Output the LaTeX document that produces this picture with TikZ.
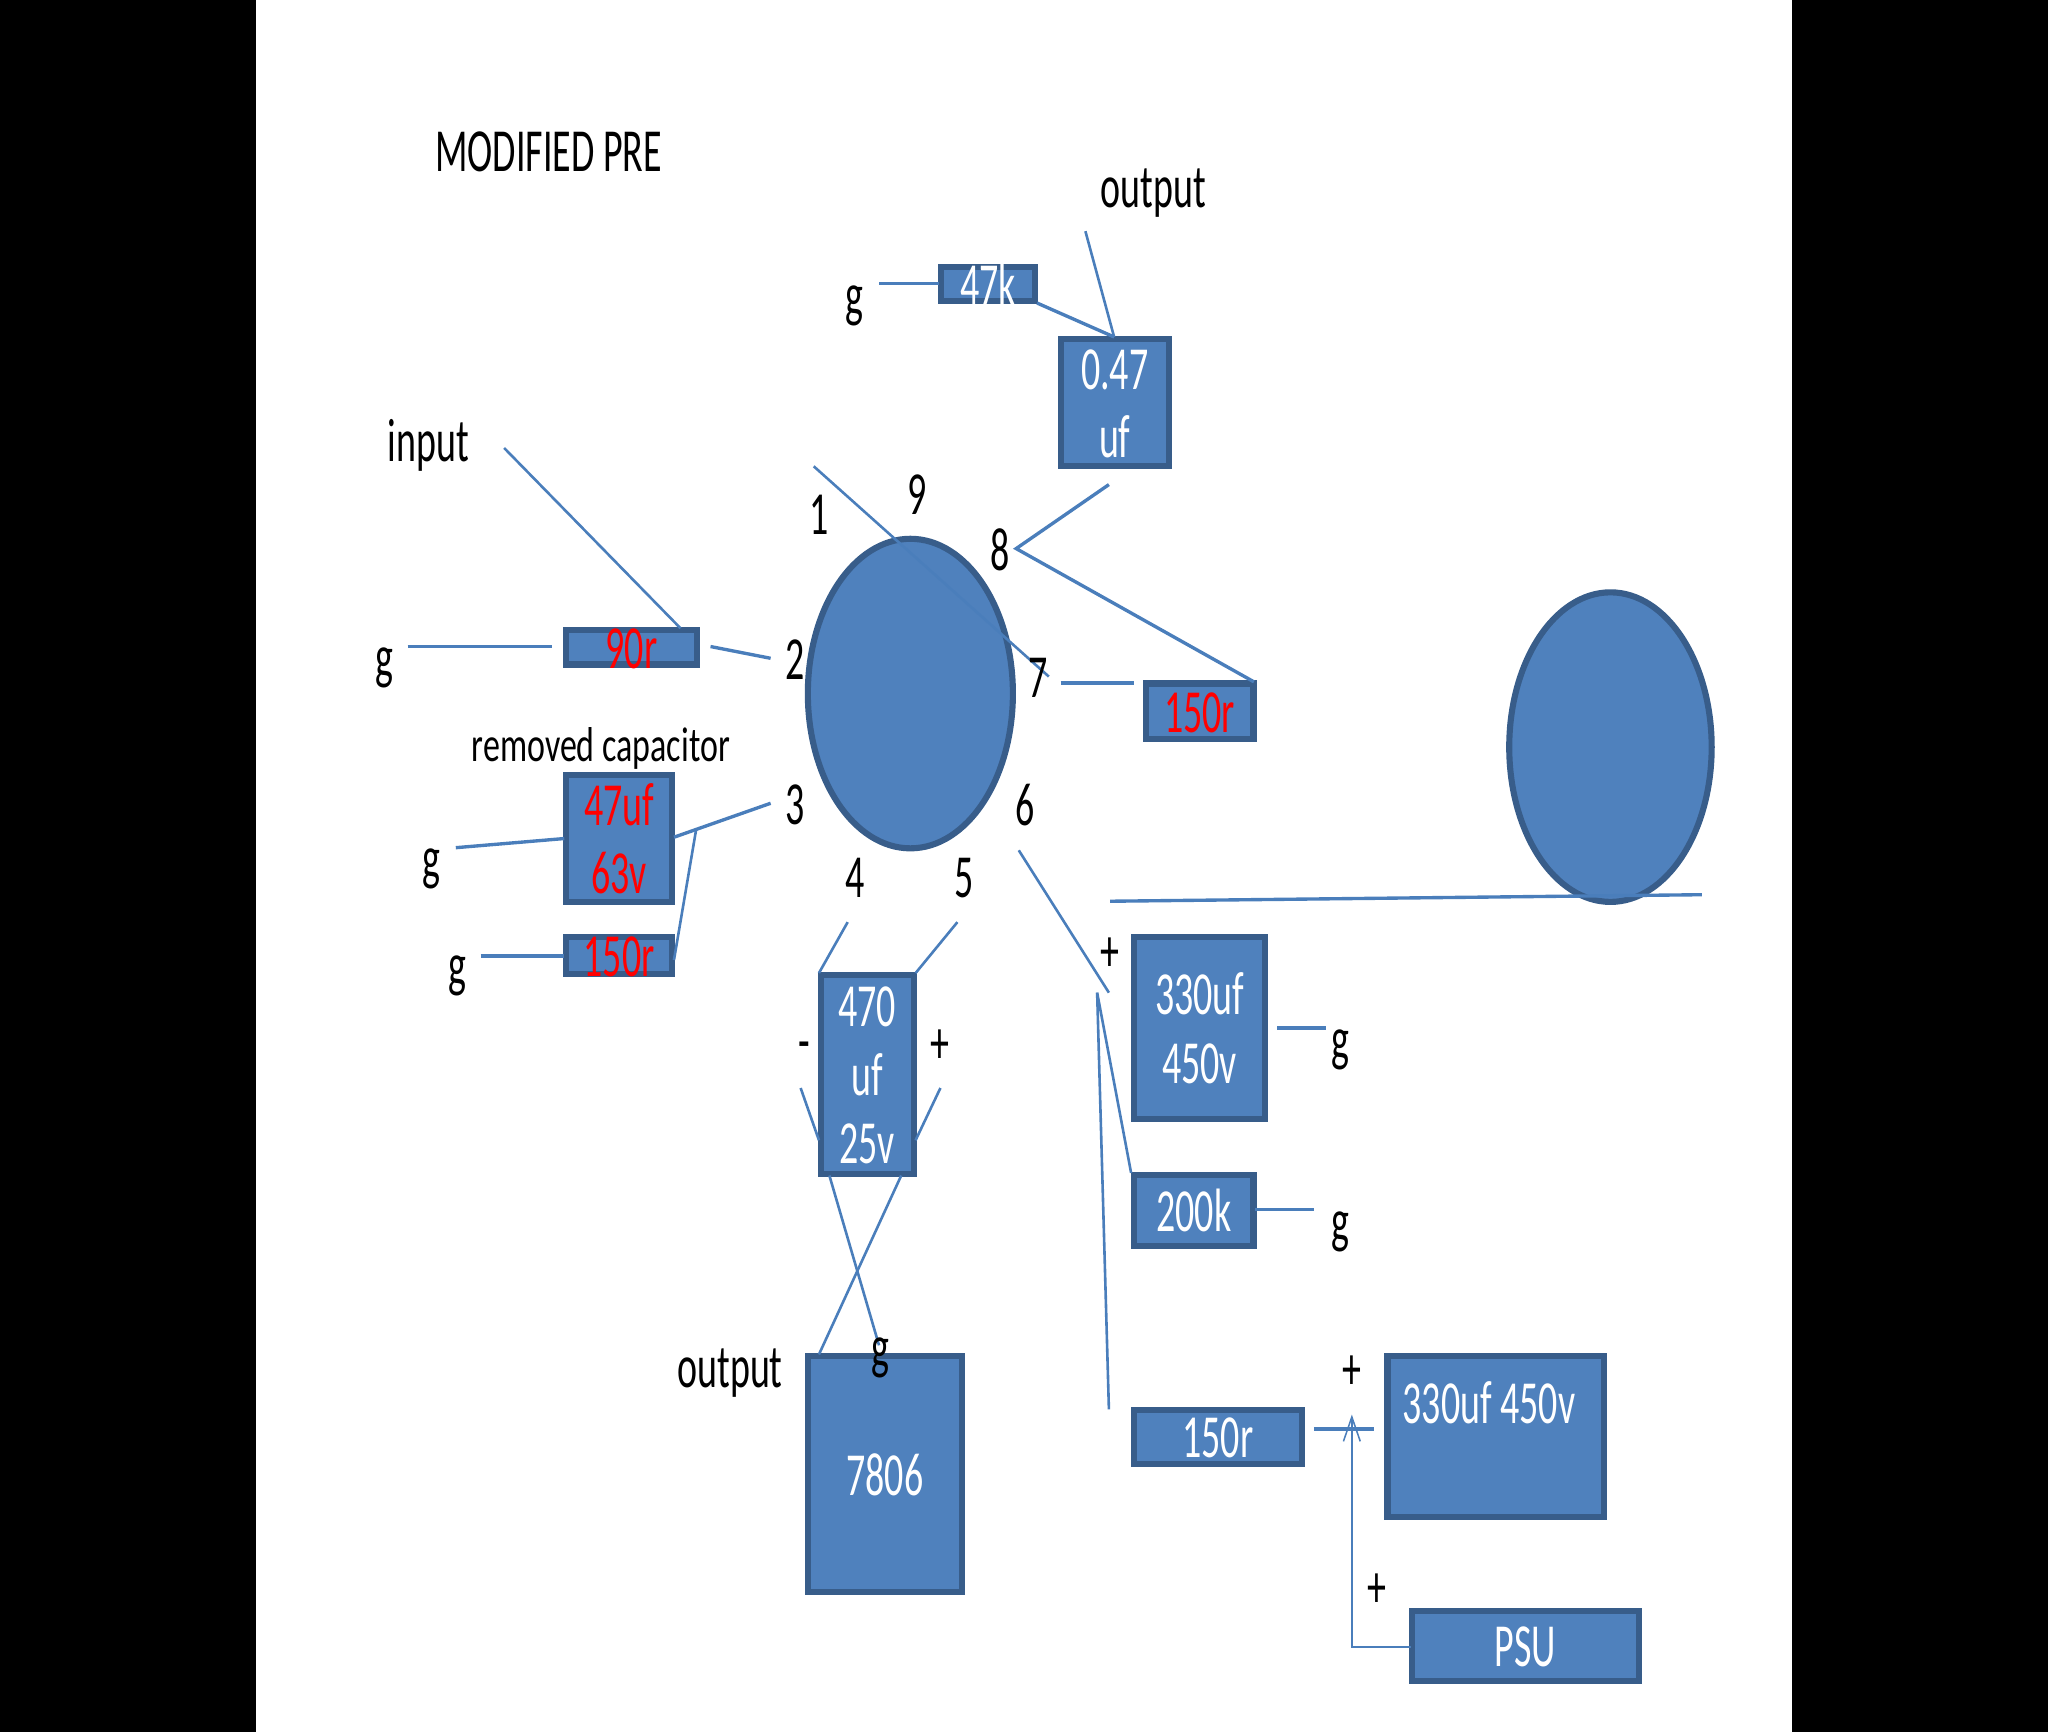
\documentclass[tikz,border=0pt]{standalone}
\usepackage{fontspec}
\setmainfont{Carlito}
\usetikzlibrary{arrows.meta}
\definecolor{bfill}{HTML}{4F81BD}
\definecolor{bdraw}{HTML}{385D8A}
\definecolor{bline}{HTML}{4A7EBB}
\newcommand{\nt}[1]{\scalebox{0.62}[1]{#1}}
\newcommand{\bt}[1]{\smash{\raisebox{-13.8pt}{\nt{#1}}}}
\newcommand{\mybox}[5]{\node[boxn,minimum width={(#3-#1)*0.03cm-2.2pt},minimum height={(#4-#2)*0.03cm-2.2pt},text=#5] at ({(#1+#3)/2},{(#2+#4)/2})}
\tikzset{
  boxn/.style={draw=bdraw,fill=bfill,line width=4pt,inner sep=0pt,align=center,font=\fontsize{40}{44.8}\selectfont},
  disc/.style={draw=bdraw,fill=bfill,line width=4pt},
  wire/.style={draw=bline,line width=2.2pt},
  thinwire/.style={draw=bline,line width=1.7pt},
  lab/.style={inner sep=0pt,font=\fontsize{40}{44}\selectfont,text=black},
}
\begin{document}
\begin{tikzpicture}[x=0.03cm,y=-0.03cm]
\useasboundingbox (0,0) rectangle (1568,1326.04);
\fill[black] (0,0) rectangle (196,1326.04);
\fill[black] (1372,0) rectangle (1568,1326.04);
% discs
\draw[disc] (697,531) ellipse [x radius=78.5,y radius=118.5];
\draw[disc] (1233,572) ellipse [x radius=77.5,y radius=118.5];
% boxes
\mybox{719}{203}{794}{232}{white} (r47k) {\bt{47k}};
\mybox{811}{258}{896}{358}{white} (c047) {\bt{0.47}\\\bt{uf}};
\mybox{432}{481}{535}{510}{red} (r90) {\bt{90r}};
\mybox{432}{592}{516}{692}{red} (c47) {\bt{47uf}\\\bt{63v}};
\mybox{432}{716}{516}{747}{red} (r150a) {\bt{150r}};
\mybox{876}{522}{961}{567}{red} (r150b) {\bt{150r}};
\mybox{627}{745}{701}{900}{white} (c470) {\bt{470}\\\bt{uf}\\\bt{25v}};
\mybox{867}{716}{970}{858}{white} (c330) {\bt{330uf}\\\bt{450v}};
\mybox{867}{898}{961}{955}{white} (r200) {\bt{200k}};
\mybox{617}{1037}{738}{1220}{white} (reg) {\bt{7806}};
\mybox{867}{1078}{998}{1122}{white} (r150c) {\bt{150r}};
\mybox{1061}{1037}{1229}{1163}{white} (c330b) {};
\node[lab,text=white] (c330bt) at (1140,1074) {\nt{330uf 450v}};
\mybox{1080}{1232}{1256}{1288}{white} (psu) {\bt{PSU}};
% free ends
\coordinate (o1) at (831,177);
\coordinate (o2) at (853,258);
\coordinate (n47) at (794,232);
\coordinate (g47a) at (673,217);
\coordinate (g47b) at (719,217);
\coordinate (p8a) at (849,371);
\coordinate (p8) at (778,420);
\coordinate (p8b) at (960,522);
\coordinate (in1) at (386,343);
\coordinate (in2) at (521,481);
\coordinate (g90a) at (312,495);
\coordinate (g90b) at (423,495);
\coordinate (p2a) at (544,495);
\coordinate (p2b) at (590,504);
\coordinate (l1a) at (623,357);
\coordinate (l1b) at (803,518);
\coordinate (p7a) at (812,523);
\coordinate (p7b) at (868,523);
\coordinate (g47fa) at (349,649);
\coordinate (g47fb) at (432,642);
\coordinate (p3a) at (516,641);
\coordinate (p3b) at (590,615);
\coordinate (p3c) at (533,635);
\coordinate (p3d) at (516,735);
\coordinate (g150a) at (368,732);
\coordinate (g150b) at (432,732);
\coordinate (p4a) at (649,706);
\coordinate (p4b) at (627,745);
\coordinate (p5a) at (733,706);
\coordinate (p5b) at (701,745);
\coordinate (p6a) at (780,651);
\coordinate (p6b) at (849,760);
\coordinate (j) at (840,760);
\coordinate (j2) at (866,898);
\coordinate (j3) at (849,1079);
\coordinate (la) at (850,690);
\coordinate (lb) at (1303,685);
\coordinate (g330a) at (978,787);
\coordinate (g330b) at (1015,787);
\coordinate (g200a) at (961,926);
\coordinate (g200b) at (1006,926);
\coordinate (ma) at (613,833);
\coordinate (mb) at (627,873);
\coordinate (pa) at (720,833);
\coordinate (pb) at (701,873);
\coordinate (xa) at (635,900);
\coordinate (xb) at (673,1030);
\coordinate (ya) at (690,900);
\coordinate (yb) at (627,1037);
\coordinate (ra) at (1006,1094);
\coordinate (rb) at (1052,1094);
\coordinate (sa) at (1080,1261);
\coordinate (sb) at (1035,1261);
\coordinate (sc) at (1035,1083);
% wires
\draw[thinwire] (o1) -- (o2);
\draw[wire] (n47) -- (o2);
\draw[wire] (g47a) -- (g47b);
\draw[wire] (p8a) -- (p8) -- (p8b);
\draw[thinwire] (in1) -- (in2);
\draw[wire] (g90a) -- (g90b);
\draw[wire] (p2a) -- (p2b);
\draw[thinwire] (l1a) -- (l1b);
\draw[wire] (p7a) -- (p7b);
\draw[wire] (g47fa) -- (g47fb);
\draw[wire] (p3a) -- (p3b);
\draw[thinwire] (p3c) -- (p3d);
\draw[wire] (g150a) -- (g150b);
\draw[thinwire] (p4a) -- (p4b);
\draw[thinwire] (p5a) -- (p5b);
\draw[thinwire] (p6a) -- (p6b);
\draw[thinwire] (j) -- (j2);
\draw[thinwire] (j) -- (j3);
\draw[wire] (la) -- (lb);
\draw[wire] (g330a) -- (g330b);
\draw[wire] (g200a) -- (g200b);
\draw[thinwire] (ma) -- (mb);
\draw[thinwire] (pa) -- (pb);
\draw[thinwire] (xa) -- (xb);
\draw[thinwire] (ya) -- (yb);
\draw[wire] (ra) -- (rb);
\draw[thinwire,-{Straight Barb[length=16pt,width=11pt,line width=1pt]}] (sa) -- (sb) -- (sc);
% labels
\node[lab] (title) at (420,116) {\nt{MODIFIED PRE}};
\node[lab] (lo1) at (883,148) {\nt{output}};
\node[lab] (lg1) at (654,234) {\nt{g}};
\node[lab] (lin) at (328,341) {\nt{input}};
\node[lab] (lg2) at (294,511) {\nt{g}};
\node[lab] (lrm) at (460,573) {\scalebox{0.555}[0.8]{removed capacitor}};
\node[lab] (lg3) at (330,665) {\nt{g}};
\node[lab] (lg4) at (350,747) {\nt{g}};
\node[lab] (n1) at (627,394) {\nt{1}};
\node[lab] (n2) at (609,505) {\nt{2}};
\node[lab] (n3) at (609,616) {\nt{3}};
\node[lab] (n4) at (655,672) {\nt{4}};
\node[lab] (n5) at (738,672) {\nt{5}};
\node[lab] (n6) at (785,616) {\nt{6}};
\node[lab] (n7) at (795,519) {\nt{7}};
\node[lab] (n8) at (766,421) {\nt{8}};
\node[lab] (n9) at (702,379) {\nt{9}};
\node[lab] (lp1) at (850,731) {\nt{+}};
\node[lab] (lm) at (616,805) {\nt{-}};
\node[lab] (lp2) at (720,801) {\nt{+}};
\node[lab] (lg5) at (1026,804) {\nt{g}};
\node[lab] (lg6) at (1026,943) {\nt{g}};
\node[lab] (lo2) at (559,1051) {\nt{output}};
\node[lab] (lg7) at (674,1040) {\nt{g}};
\node[lab] (lp3) at (1035,1051) {\nt{+}};
\node[lab] (lp4) at (1054,1218) {\nt{+}};
\end{tikzpicture}
\end{document}
